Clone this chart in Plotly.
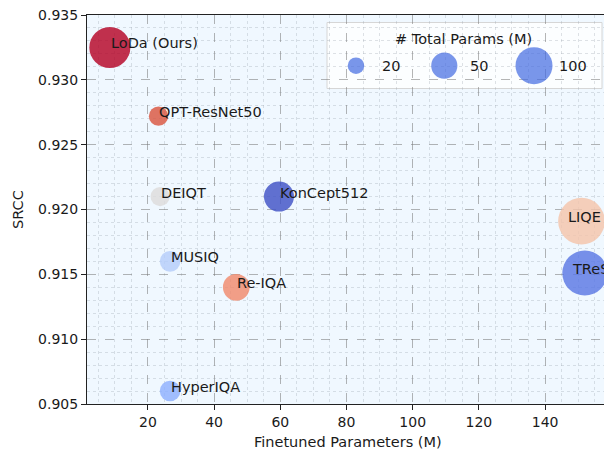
import numpy as np
import plotly.graph_objects as go

# ---- data ----
methods = ["LoDa (Ours)", "QPT-ResNet50", "DEIQT", "KonCept512", "MUSIQ",
           "Re-IQA", "HyperIQA", "LIQE", "TReS"]
finetuned_params = [8.5, 23.2, 23.7, 59.6, 26.7, 46.7, 26.7, 151.0, 152.0]
srcc = [0.9325, 0.9272, 0.921, 0.921, 0.916, 0.914, 0.906, 0.9191, 0.9151]
total_params = [123, 27, 27, 66, 31, 52, 31, 159, 148]
point_colors = ["#b40426", "#d9563f", "#dddcdc", "#3f52c6", "#b5cdfa",
                "#f08a6c", "#8db0fe", "#f4c4ab", "#5a78e4"]
legend_params = [20, 50, 100]

# ---- style ----
SIZE_K = 3.7
FONT = "DejaVu Sans"
TXT = 14.5
TICK = 14
label_xshift = {"LIQE": -15, "TReS": -15}

W, H = 604, 451
ML, MR, MT, MB = 87, 0, 15, 47
PW, PH = W - ML - MR, H - MT - MB
XR = [1.6, 157.8]
YR = [0.905, 0.935]


def px2paper(px, py):
    return (px - ML) / PW, (H - MB - py) / PH


def px2data(px, py):
    a, b = px2paper(px, py)
    return XR[0] + a * (XR[1] - XR[0]), YR[0] + b * (YR[1] - YR[0])


sizes = [SIZE_K * np.sqrt(p) for p in total_params]

fig = go.Figure()
fig.add_trace(go.Scatter(
    x=finetuned_params, y=srcc, mode="markers",
    marker=dict(size=sizes, sizemode="diameter", color=point_colors,
                opacity=0.82, line=dict(width=0)),
    showlegend=False, hoverinfo="text", text=methods,
))

annotations = []
for m, xv, yv in zip(methods, finetuned_params, srcc):
    annotations.append(dict(
        x=xv, y=yv, xref="x", yref="y", text=m, showarrow=False,
        xanchor="left", yanchor="middle", xshift=label_xshift.get(m, -1),
        yshift=4, font=dict(family=FONT, size=TXT, color="#1a1a1a"),
    ))

# axis titles
ax, ay = px2paper(348, 442)
annotations.append(dict(x=ax, y=ay, xref="paper", yref="paper",
                        text="Finetuned Parameters (M)", showarrow=False,
                        xanchor="center", yanchor="middle",
                        font=dict(family=FONT, size=TXT, color="#1a1a1a")))
sx, sy = px2paper(18, 210)
annotations.append(dict(x=sx, y=sy, xref="paper", yref="paper", text="SRCC",
                        showarrow=False, textangle=-90, xanchor="center",
                        yanchor="middle",
                        font=dict(family=FONT, size=TXT, color="#1a1a1a")))

# ---- size legend (drawn manually) ----
shapes = []
bx0, by0 = px2paper(327, 22.5)
bx1, by1 = px2paper(602, 88.5)
shapes.append(dict(type="rect", xref="paper", yref="paper",
                   x0=bx0, x1=bx1, y0=by1, y1=by0,
                   fillcolor="rgba(255,255,255,0.8)",
                   line=dict(color="#d6d6d6", width=1), layer="between"))
tx, ty = px2paper(463, 39)
annotations.append(dict(x=tx, y=ty, xref="paper", yref="paper",
                        text="# Total Params (M)", showarrow=False,
                        xanchor="center", yanchor="middle",
                        font=dict(family=FONT, size=TXT, color="#1a1a1a")))
leg_marker_px = [356, 444.3, 534]
leg_label_px = [390.7, 479, 573.3]
leg_y = 65.7
leg_pts = [px2data(p, leg_y) for p in leg_marker_px]
for p, lp in zip(legend_params, leg_label_px):
    a, b = px2paper(lp, leg_y)
    annotations.append(dict(x=a, y=b, xref="paper", yref="paper",
                            text=str(p), showarrow=False, xanchor="center",
                            yanchor="middle",
                            font=dict(family=FONT, size=TXT, color="#1a1a1a")))
fig.add_trace(go.Scatter(
    x=[q[0] for q in leg_pts], y=[q[1] for q in leg_pts], mode="markers",
    marker=dict(size=[SIZE_K * np.sqrt(p) for p in legend_params],
                sizemode="diameter", color="#4169e1", line=dict(width=0)),
    showlegend=False, hoverinfo="skip",
))

grid_major = "rgba(120,120,120,0.55)"
grid_minor = "rgba(150,160,170,0.30)"

fig.update_layout(
    width=W, height=H,
    margin=dict(l=ML, r=MR, t=MT, b=MB, pad=0, autoexpand=False),
    paper_bgcolor="white", plot_bgcolor="#f0f8ff",
    font=dict(family=FONT, size=TICK, color="#1a1a1a"),
    annotations=annotations, shapes=shapes,
    xaxis=dict(range=XR, tick0=0, dtick=20, ticks="outside",
               ticklen=5, tickcolor="#222", showline=True, linecolor="#222",
               linewidth=1, mirror=True, zeroline=False, automargin=False,
               showgrid=True, gridcolor=grid_major, griddash="dash",
               gridwidth=1,
               minor=dict(dtick=5, tick0=0, showgrid=True,
                          gridcolor=grid_minor, griddash="dot", gridwidth=1),
               tickfont=dict(family=FONT, size=TICK, color="#1a1a1a")),
    yaxis=dict(range=YR, tick0=0.905, dtick=0.005,
               tickformat=".3f", ticks="outside", ticklen=5,
               tickcolor="#222", showline=True, linecolor="#222",
               linewidth=1, mirror=False, zeroline=False, automargin=False,
               showgrid=True, gridcolor=grid_major, griddash="dash",
               gridwidth=1,
               minor=dict(dtick=0.001, tick0=0.905, showgrid=True,
                          gridcolor=grid_minor, griddash="dot", gridwidth=1),
               tickfont=dict(family=FONT, size=TICK, color="#1a1a1a")),
)

fig.write_html("out.html",
               config={"displayModeBar": False},
               post_script="document.body.style.margin='0';"
                           "document.body.style.overflow='hidden';")
